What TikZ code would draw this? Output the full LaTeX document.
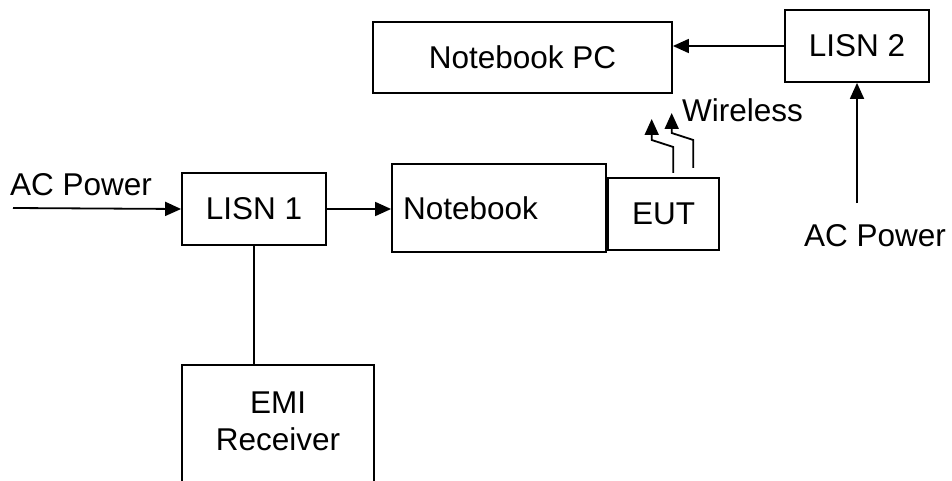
\documentclass[tikz,border=0pt]{standalone}
\usepackage{fontspec}
\setmainfont{Liberation Sans}
\usetikzlibrary{arrows.meta}
\begin{document}
\begin{tikzpicture}[x=1pt,y=-1pt,
  every node/.style={font=\fontsize{31.5}{37}\selectfont},
  box/.style={draw, line width=1.8pt, inner sep=0pt, align=center},
  conn/.style={line width=1.8pt},
  arr/.style={conn, -{Triangle[length=16pt,width=14pt]}},
  lbl/.style={inner sep=0pt}]
\useasboundingbox (0,0) rectangle (952,481);

% boxes
\node[box, minimum width=144pt, minimum height=72pt] (lisn1) at (254,209) {LISN 1};
\node[box, minimum width=214pt, minimum height=88pt, text width=192pt, inner xsep=11pt, align=left] (nb) at (499,208) {Notebook};
\node[box, minimum width=111pt, minimum height=72pt] (eut) at (663.5,214) {EUT};
\node[box, minimum width=299pt, minimum height=71pt] (nbpc) at (522.5,57.5) {Notebook PC};
\node[box, minimum width=144pt, minimum height=72pt] (lisn2) at (857,46) {LISN 2};

% EMI receiver (open at the bottom)
\node[lbl, align=center] (emi) at (278,421) {EMI\\Receiver};
\coordinate (emitop) at (254,365);
\coordinate (emiTL) at (182,365);
\coordinate (emiTR) at (374,365);
\coordinate (emiBL) at (182,481);
\coordinate (emiBR) at (374,481);
\draw[conn] (emiBL) -- (emiTL) -- (emiTR) -- (emiBR);

% labels
\node[lbl] (acl) at (81,185) {AC Power};
\node[lbl] (acr) at (875,236) {AC Power};
\node[lbl, anchor=west] (wl) at (682,110) {Wireless};

% connectors
\coordinate (aclstart) at (13,208);
\draw[arr] (aclstart) -- (lisn1.west);
\draw[arr] (lisn1.east) -- (lisn1.east -| nb.west);
\draw[arr] (lisn2.west) -- (lisn2.west -| nbpc.east);
\coordinate (acrstart) at (857,203);
\draw[arr] (acrstart) -- (lisn2.south);
\draw[conn] (lisn1.south) -- (emitop);

% wireless arrows
\coordinate (w1a) at (673.3,173);
\coordinate (w1b) at (673.3,147);
\coordinate (w1c) at (651.7,140);
\coordinate (w1d) at (651.7,119);
\coordinate (w2a) at (693.3,168);
\coordinate (w2b) at (693.3,140);
\coordinate (w2c) at (671.7,133);
\coordinate (w2d) at (671.7,113);
\draw[arr] (w1a) -- (w1b) -- (w1c) -- (w1d);
\draw[arr] (w2a) -- (w2b) -- (w2c) -- (w2d);
\end{tikzpicture}
\end{document}
